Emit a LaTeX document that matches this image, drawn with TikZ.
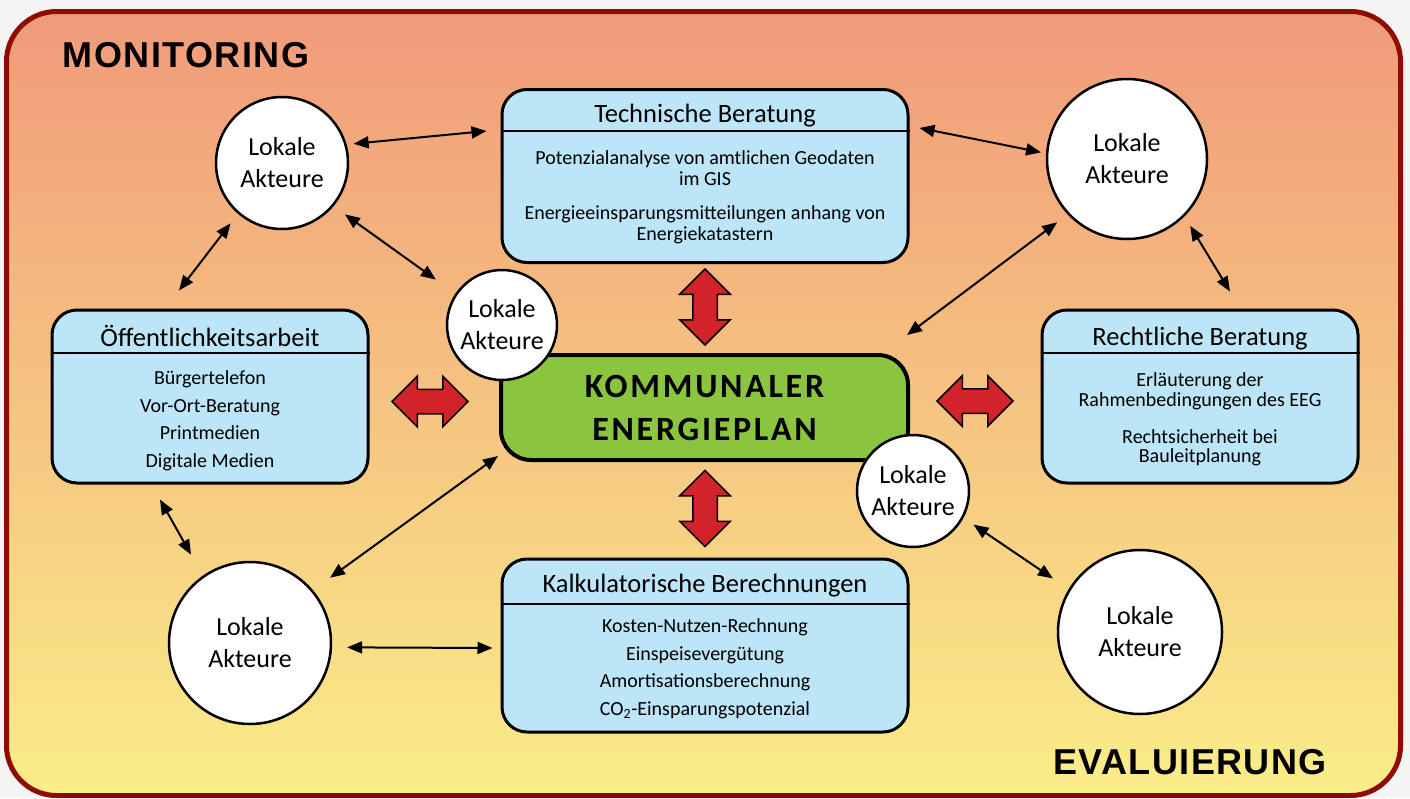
\documentclass[tikz,border=0pt]{standalone}
\usepackage{fontspec}
\setmainfont{Carlito}
\newfontfamily\titelfont[LetterSpace=4]{Liberation Sans}
\usetikzlibrary{arrows.meta,shapes.arrows}
\definecolor{rahmen}{RGB}{143,12,0}
\definecolor{oben}{RGB}{241,154,122}
\definecolor{mitte}{RGB}{246,190,126}
\definecolor{unten}{RGB}{250,237,136}
\definecolor{hellblau}{RGB}{188,229,248}
\definecolor{plangruen}{RGB}{139,197,63}
\definecolor{pfeilrot}{RGB}{210,35,42}
\definecolor{grund}{RGB}{244,244,244}
\begin{document}
\begin{tikzpicture}[x=1pt,y=-1pt,
  kasten/.style={draw,line width=3pt,fill=hellblau,rounded corners=25pt,minimum width=#1,minimum height=173pt,inner sep=0pt},
  kopf/.style={font=\fontsize{26.5}{31}\selectfont},
  inhalt/.style={align=center,font=\fontsize{20}{27.5}\selectfont},
  akteur/.style={circle,draw,line width=2.5pt,fill=white,minimum size=#1,inner sep=0pt,align=center,font=\fontsize{26}{32}\selectfont},
  link/.style={{Triangle[length=15pt,width=12pt]}-{Triangle[length=15pt,width=12pt]},line width=2pt},
  blockpfeil/.style={double arrow,draw,line width=1.5pt,fill=pfeilrot,minimum height=76pt,inner xsep=0pt,inner ysep=11.5pt,double arrow head extend=13pt},
  phase/.style={font=\titelfont\bfseries\fontsize{36}{40}\selectfont}]
\useasboundingbox (0,0) rectangle (1410,798);
\fill[grund] (0,0) rectangle (1410,798);
\draw[draw=rahmen,line width=5pt,rounded corners=50pt,top color=oben,middle color=mitte,bottom color=unten] (6.5,11.5) rectangle (1400.5,795.5);
\node[phase] (mon) at (186,55) {MONITORING};
\node[phase] (eval) at (1190,762) {EVALUIERUNG};

% Kaesten
\node[kasten=406pt] (tech) at (705,176) {};
\draw[line width=2pt] ([yshift=-43pt]tech.north west) -- ([yshift=-43pt]tech.north east);
\node[kopf] (techkopf) at ([yshift=-28pt]tech.north) {Technische Beratung};
\node[inhalt] (techtext) at (705,197.5) {Potenzialanalyse von amtlichen Geodaten\\[-6.5pt]im GIS\\[6.5pt]Energieeinsparungsmitteilungen anhang von\\[-6.5pt]Energiekatastern};

\node[kasten=316pt] (oef) at (210,396.5) {};
\draw[line width=2pt] ([yshift=-44pt]oef.north west) -- ([yshift=-44pt]oef.north east);
\node[kopf] (oefkopf) at ([yshift=-27pt]oef.north) {Öffentlichkeitsarbeit};
\node[inhalt] (oeftext) at (210,421) {Bürgertelefon\\Vor-Ort-Beratung\\Printmedien\\Digitale Medien};

\node[kasten=316pt] (recht) at (1200,396.5) {};
\draw[line width=2pt] ([yshift=-44pt]recht.north west) -- ([yshift=-44pt]recht.north east);
\node[kopf] (rechtkopf) at ([yshift=-30pt]recht.north) {Rechtliche Beratung};
\node[inhalt] (rechttext) at (1200,419) {Erläuterung der\\[-7.5pt]Rahmenbedingungen des EEG\\[9.5pt]Rechtsicherheit bei\\[-8.5pt]Bauleitplanung};

\node[kasten=406pt] (kalk) at (705,645.5) {};
\draw[line width=2pt] ([yshift=-46pt]kalk.north west) -- ([yshift=-46pt]kalk.north east);
\node[kopf] (kalkkopf) at ([yshift=-28pt]kalk.north) {Kalkulatorische Berechnungen};
\node[inhalt] (kalktext) at (705,669) {Kosten-Nutzen-Rechnung\\Einspeisevergütung\\Amortisationsberechnung\\CO\textsubscript{2}-Einsparungspotenzial};

\node[draw,line width=4pt,fill=plangruen,rounded corners=30pt,minimum width=407pt,minimum height=105pt,align=center,font=\bfseries\addfontfeatures{LetterSpace=8}\fontsize{34}{43}\selectfont] (plan) at (704.5,407.5) {KOMMUNALER\\ENERGIEPLAN};

% rote Pfeile
\node[blockpfeil] (pl) at (430,401.5) {};
\node[blockpfeil] (pr) at (975,401) {};
\node[blockpfeil,rotate=90] (po) at (705,307) {};
\node[blockpfeil,rotate=90] (pu) at (705,508.5) {};

% lokale Akteure
\node[akteur=132pt] (tl) at (282,163) {Lokale\\Akteure};
\node[akteur=160pt] (tr) at (1127,159) {Lokale\\Akteure};
\node[akteur=110pt] (ml) at (502,325) {Lokale\\Akteure};
\node[akteur=112pt] (mr) at (913,491) {Lokale\\Akteure};
\node[akteur=162pt] (bl) at (250,643) {Lokale\\Akteure};
\node[akteur=164pt] (br) at (1140,632) {Lokale\\Akteure};

\draw[link,shorten <=7pt] (tl.16) -- ([shift={(-14pt,45pt)}]tech.west);
\draw[link,shorten <=14pt,shorten >=24pt] (tl.-40) -- (ml.146);
\draw[link,shorten <=12pt] (tl.229) -- ([shift={(-31pt,18pt)}]oef.north);
\draw[link,shorten >=24pt] ([shift={(-50pt,-15pt)}]oef.south) -- (bl.125);
\draw[link,shorten <=15pt] (bl.-3) -- ([shift={(-8pt,-2.5pt)}]kalk.west);
\draw[link,shorten <=21pt] (bl.40) -- ([shift={(-1pt,6pt)}]plan.south west);
\draw[link,shorten >=5pt] ([shift={(10pt,48pt)}]tech.east) -- (tr.176);
\draw[link,shorten <=13pt] (tr.223) -- ([shift={(-3pt,18pt)}]plan.north east);
\draw[link,shorten <=11pt] (tr.-45) -- ([shift={(30pt,17pt)}]recht.north);
\draw[link,shorten <=12pt,shorten >=19pt] (mr.-28) -- (br.149); %MR-BR
\end{tikzpicture}
\end{document}
